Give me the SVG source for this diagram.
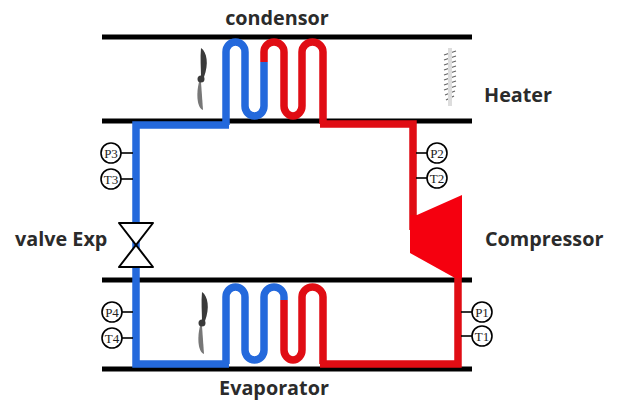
<svg xmlns="http://www.w3.org/2000/svg" width="617" height="400" viewBox="0 0 617 400">
<style>
.bar{stroke:#000;stroke-width:5;fill:none}
.blue{stroke:#2469dc;stroke-width:7.500;fill:none}
.red{stroke:#e00d14;stroke-width:7.500;fill:none}
.lab{font-family:"Open Sans",sans-serif;font-weight:700;font-size:19.800px;fill:#2b2b2b}
.g{fill:#fff;stroke:#000;stroke-width:1.6}
.gl{stroke:#000;stroke-width:1.6}
.gt{font-family:"Liberation Serif",serif;font-size:13px;text-anchor:middle;fill:#222}
.fan{fill:#3a3a3a}
.coil{stroke:#666;stroke-width:1.3;fill:none}
</style>
<g id="bars">
<path class="bar" d="M102 37H472M102 121H472M102 280H472M102 369H472"/>
</g>
<g id="connectors">
<path class="blue" d="M136 280V125H229"/>
<path class="blue" d="M136 280V364H229"/>
<path class="red" d="M320 124H413V230"/>
<path class="red" d="M320 364H458V277"/>
<path class="blue" d="M226 125V52a9.500 10 0 0 1 19 0V106a9.500 10 0 0 0 19 0V62"/>
<path class="red" d="M264 62V52a10 10 0 0 1 20 0V106a9 10 0 0 0 18 0V52a10.500 10 0 0 1 21 0V124"/>
<path class="blue" d="M226 364V297a9.500 10 0 0 1 19 0V350a9.500 10 0 0 0 19 0V297a10 10 0 0 1 20 0V300"/>
<path class="red" d="M284 300V350a9 10 0 0 0 18 0V297a10.500 10 0 0 1 21 0V364"/>
</g>
<g id="compressor"><polygon points="417,215 462,195 462,278 455,278 410,253 410,215" fill="#f5000f"/></g>
<g id="valve"><path d="M119 223H153L119 267H153Z" fill="#fff" stroke="#000" stroke-width="2" stroke-linejoin="round"/></g>
<g id="fan-top">
<path class="fan" d="M201 48C207 52 209 64 204 77L201 78C201 68 200 58 201 48Z"/>
<path d="M201 82L203 110C197 108 196 94 199 82Z" fill="#777"/>
<circle class="fan" cx="201" cy="79" r="3.500"/>
</g>
<g id="fan-bottom">
<path class="fan" d="M202 292C208 296 210 308 205 321L202 322C202 312 201 302 202 292Z"/>
<path d="M202 326L204 354C198 352 197 338 200 326Z" fill="#777"/>
<circle class="fan" cx="202" cy="323" r="3.500"/>
</g>
<g id="heater">
<path class="coil" d="M444 55L456 51M444 60L456 56M444 65L456 61M444 70L456 66M444 75L456 71M444 80L456 76M444 85L456 81M444 90L456 86M445 95L455 91M446 100L454 96"/>
<path d="M450 48V106" stroke="#ddd" stroke-width="4" fill="none"/>
</g>
<g id="gauge-p3"><path class="gl" d="M121 153H133"/><circle class="g" cx="111" cy="153" r="10"/><text class="gt" x="111" y="157.500">P3</text></g>
<g id="gauge-t3"><path class="gl" d="M121 179H133"/><circle class="g" cx="111" cy="179" r="10"/><text class="gt" x="111" y="183.500">T3</text></g>
<g id="gauge-p4"><path class="gl" d="M122 312H133"/><circle class="g" cx="112" cy="312" r="10"/><text class="gt" x="112" y="316.500">P4</text></g>
<g id="gauge-t4"><path class="gl" d="M122 338H133"/><circle class="g" cx="112" cy="338" r="10"/><text class="gt" x="112" y="342.500">T4</text></g>
<g id="gauge-p2"><path class="gl" d="M416 153H427"/><circle class="g" cx="437" cy="153" r="10"/><text class="gt" x="437" y="157.500">P2</text></g>
<g id="gauge-t2"><path class="gl" d="M416 178H427"/><circle class="g" cx="437" cy="178" r="10"/><text class="gt" x="437" y="182.500">T2</text></g>
<g id="gauge-p1"><path class="gl" d="M461 312H472"/><circle class="g" cx="482" cy="312" r="10"/><text class="gt" x="482" y="316.500">P1</text></g>
<g id="gauge-t1"><path class="gl" d="M461 336H472"/><circle class="g" cx="482" cy="336" r="10"/><text class="gt" x="482" y="340.500">T1</text></g>
<g id="labels">
<text class="lab" x="277" y="25" text-anchor="middle">condensor</text>
<text class="lab" x="484" y="102">Heater</text>
<text class="lab" x="15" y="246">valve Exp</text>
<text class="lab" x="485" y="246">Compressor</text>
<text class="lab" x="274" y="395" text-anchor="middle">Evaporator</text>
</g>
</svg>
